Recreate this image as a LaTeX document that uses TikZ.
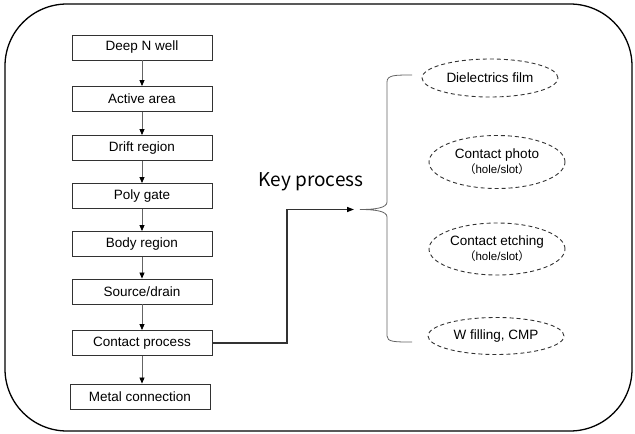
\documentclass[tikz,border=0pt]{standalone}
\usepackage{fontspec}
\setmainfont{Liberation Sans}
\newfontfamily\cjk{Noto Sans CJK SC}
\usepackage{xcolor}
\usetikzlibrary{shapes.geometric,arrows.meta}
\definecolor{FlowGray}{RGB}{50,50,50}
\definecolor{LinkGray}{RGB}{100,100,100}

\begin{document}
\begin{tikzpicture}[x=1pt,y=-1pt,
    stepbox/.style={rectangle,draw=FlowGray,line width=0.9pt,minimum width=140pt,minimum height=25pt,inner sep=0pt,font=\fontsize{13.5}{16}\selectfont},
    keystep/.style={ellipse,draw=FlowGray,line width=0.9pt,dash pattern=on 4pt off 3pt,inner sep=0pt,minimum width=136pt,align=center,font=\fontsize{13.5}{18}\selectfont},
    flow/.style={-{Triangle[length=6pt,width=5pt,fill=black,color=black]},draw=LinkGray,line width=0.8pt}]
    \useasboundingbox (0,0) rectangle (635,434);

    % Outer frame
    \draw[line width=1.3pt,rounded corners=62pt] (5,4) rectangle (632,431);

    % Process flow on the left
    \node[stepbox] (dnw) at (142,47.5) {Deep N well};
    \node[stepbox] (active) at (142,99) {Active area};
    \node[stepbox] (drift) at (142,148) {Drift region};
    \node[stepbox] (poly) at (142,196) {Poly gate};
    \node[stepbox] (body) at (142,244) {Body region};
    \node[stepbox] (sd) at (142,291.5) {Source/drain};
    \node[stepbox] (contact) at (142,343) {Contact process};
    \node[stepbox] (metal) at (140,396.5) {Metal connection};

    % Arrows between the steps
    \draw[flow] (dnw) -- (active);
    \draw[flow] (active) -- (drift);
    \draw[flow] (drift) -- (poly);
    \draw[flow] (poly) -- (body);
    \draw[flow] (body) -- (sd);
    \draw[flow] (sd) -- (contact);
    \draw[flow] (contact.south) -- (contact.south |- metal.north);

    % Key process label and link
    \node[font=\cjk\fontsize{19}{22}\selectfont] (key) at (311,182) {Key process};
    \coordinate (keyin) at (354,209.5);
    \draw[-{Triangle[length=7pt,width=5pt,fill=black,color=black]},draw=FlowGray,line width=1.3pt] (contact.east) -- (287,343) |- (keyin);

    % Key process steps
    \node[keystep,minimum height=38pt] (film) at (490,78) {Dielectrics film};
    \node[keystep,minimum height=53pt] (photo) at (497,162) {Contact photo\\[-3pt]{\fontsize{11.5}{13}\selectfont{\cjk （}hole/slot{\cjk ）}}};
    \node[keystep,minimum height=52pt] (etch) at (497,249) {Contact etching\\[-3pt]{\fontsize{11.5}{13}\selectfont{\cjk （}hole/slot{\cjk ）}}};
    \node[keystep,minimum height=37pt] (wfill) at (496,336) {W filling, CMP};

    % Brace
    \draw[draw=LinkGray,line width=0.8pt] (412,75) .. controls (395,75) and (387,75) .. (387,82)
        -- (387,202) .. controls (387,208) and (375,209.5) .. (360,209.5)
        .. controls (375,209.5) and (387,211) .. (387,217)
        -- (387,336) .. controls (387,342) and (395,342) .. (412,342);
\end{tikzpicture}
\end{document}
